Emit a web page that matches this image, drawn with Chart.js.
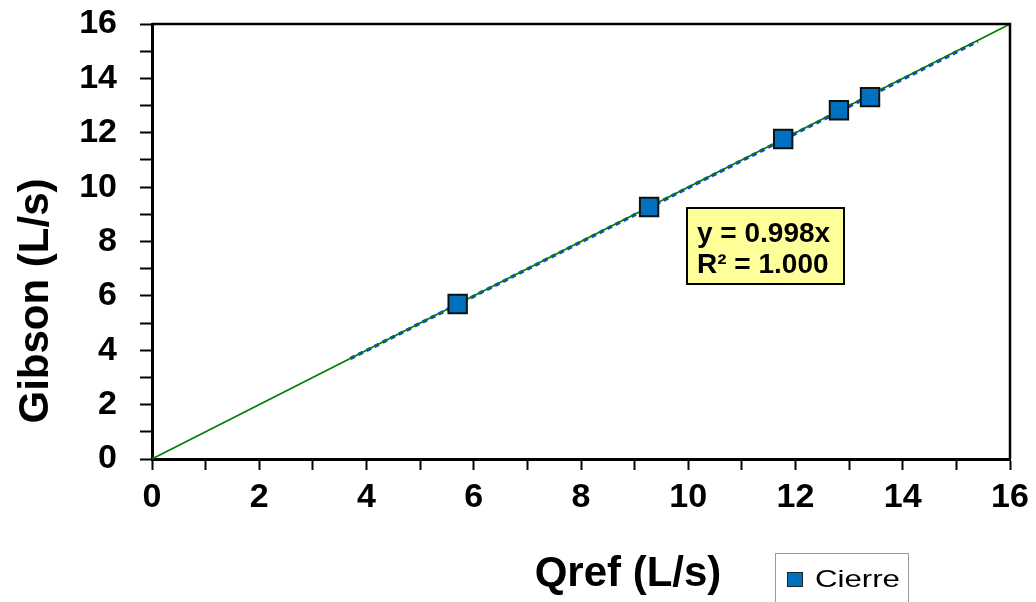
<!DOCTYPE html>
<html>
<head>
<meta charset="utf-8">
<script src="https://cdn.jsdelivr.net/npm/chart.js@4.4.1/dist/chart.umd.min.js"></script>
<style>
  html, body { margin: 0; padding: 0; background: #fff; overflow: hidden; }
</style>
</head>
<body>
<canvas id="c" width="1036" height="602"></canvas>
<script>
// --- datos ---
const qref   = [5.70, 9.27, 11.77, 12.81, 13.39];
const gibson = [5.70, 9.27, 11.77, 12.83, 13.31];
const serieLabel = "Cierre";
const lineaRef = [0, 16];          // recta 1:1
const trendSlope = 0.998;          // y = 0.998x
const trendR2 = 1.000;
const trendRange = [3.7, 15.4];    // tramo dibujado de la tendencia
const tickLabels = [0, 2, 4, 6, 8, 10, 12, 14, 16];

const FONT = "'Liberation Sans', Arial, sans-serif";

// --- plugin: marco, títulos, cuadro de ecuación y leyenda ---
const decoPlugin = {
  id: "deco",
  afterDraw(chart) {
    const ctx = chart.ctx;
    const a = chart.chartArea;
    ctx.save();

    // marco superior y derecho
    ctx.strokeStyle = "#000";
    ctx.lineWidth = 2.5;
    ctx.beginPath();
    ctx.moveTo(a.left, a.top);
    ctx.lineTo(a.right, a.top);
    ctx.lineTo(a.right, a.bottom);
    ctx.stroke();

    // títulos de ejes
    ctx.fillStyle = "#000";
    ctx.font = "bold 42px " + FONT;
    ctx.textAlign = "center";
    ctx.textBaseline = "alphabetic";
    ctx.fillText("Qref (L/s)", 628, 586);
    ctx.save();
    ctx.translate(48, 301);
    ctx.rotate(-Math.PI / 2);
    ctx.fillText("Gibson (L/s)", 0, 0);
    ctx.restore();

    // cuadro con la ecuación
    ctx.fillStyle = "#ffff99";
    ctx.fillRect(687, 208, 157, 76);
    ctx.strokeStyle = "#000";
    ctx.lineWidth = 2;
    ctx.strokeRect(687, 208, 157, 76);
    ctx.fillStyle = "#000";
    ctx.font = "bold 28px " + FONT;
    ctx.textAlign = "left";
    ctx.fillText("y = " + trendSlope.toFixed(3) + "x", 697, 242);
    ctx.fillText("R\u00b2 = " + trendR2.toFixed(3), 697, 273);

    // leyenda
    ctx.strokeStyle = "#9a9a9a";
    ctx.lineWidth = 1;
    ctx.strokeRect(775.5, 553.5, 133, 60);
    const ds = chart.data.datasets[0];
    ctx.fillStyle = ds.backgroundColor;
    ctx.fillRect(787, 572, 16, 15);
    ctx.strokeStyle = "#222";
    ctx.strokeRect(787.5, 572.5, 15, 14);
    ctx.fillStyle = "#000";
    ctx.textBaseline = "alphabetic";
    ctx.save();
    ctx.translate(815, 587);
    ctx.scale(1.3, 1);
    ctx.font = "24px " + FONT;
    ctx.fillText(ds.label, 0, 0);
    ctx.restore();

    ctx.restore();
  }
};

const puntos = qref.map((x, i) => ({ x: x, y: gibson[i] }));
const recta = lineaRef.map(v => ({ x: v, y: v }));
const tendencia = trendRange.map(x => ({ x: x, y: trendSlope * x }));

function ejeComun(tickLen, pad) {
  return {
    type: "linear",
    min: 0,
    max: 16,
    border: { display: true, color: "#000", width: 3 },
    grid: {
      drawOnChartArea: false,
      drawTicks: true,
      tickLength: tickLen,
      tickColor: "#000",
      tickWidth: 2
    },
    ticks: {
      stepSize: 1,
      autoSkip: false,
      maxRotation: 0,
      padding: pad,
      color: "#000",
      font: { family: FONT, size: 34, weight: "bold" },
      callback: v => tickLabels.includes(v) ? String(v) : ""
    }
  };
}

// tamaños fijos de los ejes para dejar el área de trazado en su sitio
const ejeX = ejeComun(11, 7);
ejeX.afterFit = s => { s.height = 143; s.paddingLeft = 0; s.paddingRight = 0; };
const ejeY = ejeComun(12, 23);
ejeY.afterFit = s => { s.width = 152; s.paddingTop = 0; s.paddingBottom = 0; };

new Chart(document.getElementById("c"), {
  type: "scatter",
  data: {
    datasets: [
      {
        label: serieLabel,
        data: puntos,
        pointStyle: "rect",
        pointRadius: 13,
        pointHoverRadius: 13,
        backgroundColor: "#0070c0",
        borderColor: "#111",
        borderWidth: 2
      },
      {
        label: "1:1",
        type: "line",
        data: recta,
        borderColor: "#008000",
        borderWidth: 1.6,
        pointRadius: 0,
        fill: false
      },
      {
        label: "tendencia",
        type: "line",
        data: tendencia,
        borderColor: "#2030ff",
        borderWidth: 3.4,
        borderDash: [5, 4],
        pointRadius: 0,
        fill: false
      }
    ]
  },
  options: {
    responsive: false,
    animation: false,
    layout: { padding: { top: 24, right: 26, left: 0, bottom: 0 } },
    plugins: {
      legend: { display: false },
      tooltip: { enabled: false }
    },
    scales: { x: ejeX, y: ejeY }
  },
  plugins: [decoPlugin]
});
</script>
</body>
</html>
